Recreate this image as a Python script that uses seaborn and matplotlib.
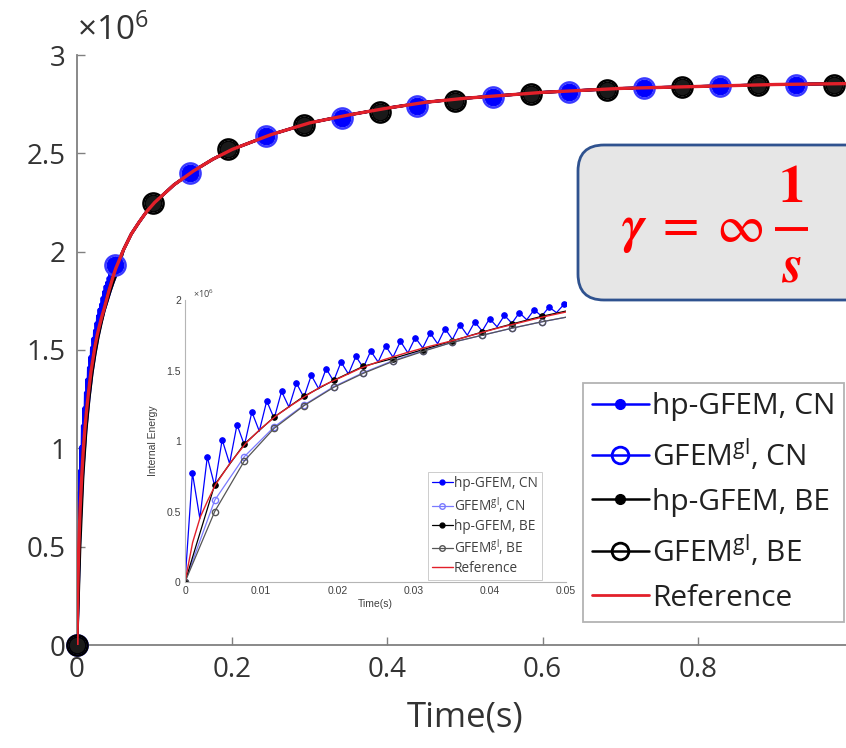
import numpy as np
import matplotlib
matplotlib.use("Agg")
import matplotlib.pyplot as plt
import seaborn as sns
from matplotlib.lines import Line2D
from matplotlib.patches import FancyBboxPatch
from matplotlib.transforms import IdentityTransform
from matplotlib.ticker import FuncFormatter

# ------------------------------------------------------------------ data
# values of the internal energy are in units of 1e6
# reference solution
t_ref = [0, 0.001, 0.002, 0.003, 0.004, 0.006, 0.008, 0.010, 0.012, 0.014, 0.016,
         0.018, 0.020, 0.023, 0.026, 0.029, 0.032, 0.035, 0.038, 0.041, 0.044,
         0.047, 0.050, 0.060, 0.070, 0.080, 0.090, 0.10, 0.125, 0.15, 0.175,
         0.20, 0.25, 0.30, 0.35, 0.40, 0.45, 0.50, 0.60, 0.70, 0.80, 0.90, 1.00]
e_ref = [0, 0.28, 0.46, 0.58, 0.69, 0.85, 0.985, 1.09, 1.18, 1.255, 1.325,
         1.39, 1.44, 1.515, 1.575, 1.625, 1.67, 1.71, 1.755, 1.80, 1.84,
         1.88, 1.915, 2.01, 2.09, 2.15, 2.205, 2.25, 2.34, 2.41, 2.47,
         2.52, 2.595, 2.655, 2.695, 2.73, 2.76, 2.78, 2.81, 2.83, 2.84, 2.85, 2.855]

# inset (first 0.05 s): hp-GFEM, CN oscillates between valleys and peaks
t_cn_fine = np.round(np.arange(52) * 0.000975, 6)
hp_cn_valley = [0, 0.45, 0.68, 0.84, 0.97, 1.07, 1.16, 1.24, 1.31, 1.37, 1.425,
                1.475, 1.52, 1.56, 1.595, 1.625, 1.66, 1.69, 1.72, 1.75, 1.78,
                1.81, 1.835, 1.86, 1.885, 1.91]
hp_cn_peak = [0.773, 0.887, 1.009, 1.116, 1.206, 1.284, 1.352, 1.411, 1.466,
              1.513, 1.560, 1.600, 1.638, 1.674, 1.707, 1.733, 1.766, 1.797,
              1.825, 1.844, 1.868, 1.891, 1.910, 1.931, 1.950, 1.969]
hp_cn_fine = np.column_stack([hp_cn_valley, hp_cn_peak]).ravel()

t_coarse = np.round(np.arange(14) * 0.0039, 6)
gl_cn_coarse = [0, 0.58, 0.89, 1.10, 1.255, 1.385, 1.485, 1.57, 1.64, 1.70,
                1.75, 1.80, 1.845, 1.885]
hp_be_coarse = [0, 0.69, 0.98, 1.17, 1.317, 1.43, 1.53, 1.585, 1.648, 1.71,
                1.773, 1.83, 1.884, 1.93]
gl_be_coarse = [0, 0.50, 0.86, 1.09, 1.25, 1.38, 1.48, 1.565, 1.635, 1.70,
                1.75, 1.80, 1.845, 1.885]

# main plot marker points (0 .. 1 s)
t_cn_main = [0, 0.04875, 0.14625, 0.24375, 0.34125, 0.43875, 0.53625,
             0.63375, 0.73125, 0.82875, 0.92625]
e_cn_main = [0, 1.93, 2.40, 2.59, 2.68, 2.74, 2.785, 2.81, 2.83, 2.84, 2.848]
t_be_main = [0, 0.0975, 0.195, 0.2925, 0.39, 0.4875, 0.585, 0.6825, 0.78,
             0.8775, 0.975]
e_be_main = [0, 2.25, 2.52, 2.645, 2.71, 2.765, 2.80, 2.82, 2.835, 2.845, 2.85]

labels = ["hp-GFEM, CN", r"GFEM$^{\mathrm{gl}}$, CN", "hp-GFEM, BE",
          r"GFEM$^{\mathrm{gl}}$, BE", "Reference"]

# ------------------------------------------------------------------ style
sns.set_theme(style="white")
plt.rcParams["font.family"] = ["Open Sans", "DejaVu Sans"]
plt.rcParams["mathtext.fontset"] = "custom"
plt.rcParams["mathtext.rm"] = "Open Sans"
plt.rcParams["mathtext.it"] = "Open Sans:italic"
plt.rcParams["mathtext.bf"] = "Open Sans:bold"

BLUE = "#0000ff"
LBLUE = "#7a7aff"
BLACK = "#000000"
GRAY = "#555555"
RED = "#e2202a"
SPINE = "#808080"
TXT = "#333333"

W, H = 846, 748
fig = plt.figure(figsize=(W / 100, H / 100), dpi=100)
fig.patch.set_facecolor("white")

ax = fig.add_axes([77 / W, 103 / H, 776 / W, 590 / H])
ax.set_facecolor("white")


def cat(t_a, e_a, t_b, e_b):
    t_a = np.asarray(t_a, float); e_a = np.asarray(e_a, float)
    t_b = np.asarray(t_b, float); e_b = np.asarray(e_b, float)
    m = t_b > t_a.max() + 1e-9
    return np.concatenate([t_a, t_b[m]]), np.concatenate([e_a, e_b[m]])


# lines in main plot (after 0.05 s all solutions lie on the reference curve)
for (ta, ea, c) in [
    (t_cn_fine, hp_cn_fine, BLUE),
    (t_coarse, gl_cn_coarse, BLUE),
    (t_coarse, hp_be_coarse, BLACK),
    (t_coarse, gl_be_coarse, BLACK),
]:
    tt, ee = cat(ta, ea, t_ref, e_ref)
    sns.lineplot(x=tt, y=ee, ax=ax, color=c, lw=2.0, sort=False, legend=False,
                 zorder=2)

# markers in main plot
ax.plot(t_cn_main, e_cn_main, ls="none", marker="o", ms=12, mfc=BLUE, mec=BLUE,
        zorder=3, clip_on=False)
ax.plot(t_cn_main, e_cn_main, ls="none", marker="o", ms=14.5, mfc="none", mec="#3a3aff",
        mew=1.8, zorder=3, clip_on=False)
ax.plot(t_be_main, e_be_main, ls="none", marker="o", ms=12, mfc="#1a1a1a", mec=BLACK,
        zorder=3, clip_on=False)
ax.plot(t_be_main, e_be_main, ls="none", marker="o", ms=14.5, mfc="none", mec=BLACK,
        mew=1.8, zorder=3, clip_on=False)
sns.lineplot(x=t_ref, y=e_ref, ax=ax, color=RED, lw=2.4, sort=False, legend=False, zorder=4)

ax.set_xlim(0, 1)
ax.set_ylim(0, 3)
ax.set_xticks([0, 0.2, 0.4, 0.6, 0.8])
ax.set_yticks([0, 0.5, 1, 1.5, 2, 2.5, 3])
fmt = FuncFormatter(lambda v, p: f"{v:g}")
ax.xaxis.set_major_formatter(fmt)
ax.yaxis.set_major_formatter(fmt)
for s in ["top", "right"]:
    ax.spines[s].set_visible(False)
for s in ["left", "bottom"]:
    ax.spines[s].set_color(SPINE)
    ax.spines[s].set_linewidth(1.3)
ax.tick_params(direction="in", length=6, width=1, colors=SPINE, labelsize=20,
               labelcolor=TXT, pad=8, left=True, bottom=True)
ax.set_xlabel("Time(s)", fontsize=25, color=TXT, labelpad=12)
ax.text(0.0, 1.012, "×10$^{6}$", transform=ax.transAxes, ha="left", va="bottom",
        fontsize=24, color=TXT)

# main legend
h_main = [
    Line2D([], [], color=BLUE, lw=1.8, marker="o", ms=7, mfc=BLUE, mec=BLUE),
    Line2D([], [], color=BLUE, lw=1.8, marker="o", ms=12, mfc="none", mec=BLUE, mew=2),
    Line2D([], [], color=BLACK, lw=1.8, marker="o", ms=7, mfc=BLACK, mec=BLACK),
    Line2D([], [], color=BLACK, lw=1.8, marker="o", ms=12, mfc="none", mec=BLACK, mew=2),
    Line2D([], [], color=RED, lw=2.0),
]
leg = ax.legend(h_main, labels, loc="upper left",
                bbox_to_anchor=(583 / W, 1 - 383 / H), bbox_transform=fig.transFigure,
                fontsize=21.5, frameon=True, fancybox=False, edgecolor="#a0a0a0",
                handlelength=1.9, handletextpad=0.1, labelspacing=0.52,
                borderpad=0.3, borderaxespad=0)
leg.get_frame().set_linewidth(1.3)
for txt in leg.get_texts():
    txt.set_color("#222222")

# ------------------------------------------------------------------ inset
axi = fig.add_axes([185 / W, 166 / H, 381 / W, 282 / H])
axi.set_facecolor("white")
sns.lineplot(x=t_cn_fine, y=hp_cn_fine, ax=axi, color=BLUE, lw=0.9, sort=False,
             legend=False, marker="o", ms=4, mfc=BLUE, mec=BLUE,
             markevery=slice(1, None, 2))
sns.lineplot(x=t_coarse, y=gl_cn_coarse, ax=axi, color=LBLUE, lw=0.9, sort=False,
             legend=False, marker="o", ms=4.5, mfc="none", mec=LBLUE, mew=1)
sns.lineplot(x=t_coarse, y=hp_be_coarse, ax=axi, color=BLACK, lw=0.9, sort=False,
             legend=False, marker="o", ms=4, mfc=BLACK, mec=BLACK)
sns.lineplot(x=t_coarse, y=gl_be_coarse, ax=axi, color=GRAY, lw=0.9, sort=False,
             legend=False, marker="o", ms=4.5, mfc="none", mec=GRAY, mew=1)
sns.lineplot(x=t_ref, y=e_ref, ax=axi, color=RED, lw=1.0, sort=False, legend=False)

axi.set_xlim(0, 0.05)
axi.set_ylim(0, 2)
axi.set_xticks([0, 0.01, 0.02, 0.03, 0.04, 0.05])
axi.set_yticks([0, 0.5, 1, 1.5, 2])
axi.xaxis.set_major_formatter(fmt)
axi.yaxis.set_major_formatter(fmt)
for s in ["top", "right"]:
    axi.spines[s].set_visible(False)
for s in ["left", "bottom"]:
    axi.spines[s].set_color("#b5b5b5")
    axi.spines[s].set_linewidth(0.8)
axi.tick_params(direction="in", length=3, width=0.6, colors="#b5b5b5", labelsize=7.5,
                labelcolor="#404040", pad=3)
for lab in axi.get_xticklabels() + axi.get_yticklabels():
    lab.set_family(["Liberation Sans", "DejaVu Sans"])
axi.set_xlabel("Time(s)", fontsize=7.5, color="#404040", labelpad=2,
               family=["Liberation Sans", "DejaVu Sans"])
axi.set_ylabel("Internal Energy", fontsize=7.5, color="#404040", labelpad=6,
               family=["Liberation Sans", "DejaVu Sans"])
axi.text(0.02, 1.0, "×10$^{6}$", transform=axi.transAxes, ha="left", va="bottom",
         fontsize=6.5, color="#404040")

h_in = [
    Line2D([], [], color=BLUE, lw=0.9, marker="o", ms=3.5, mfc=BLUE, mec=BLUE),
    Line2D([], [], color=LBLUE, lw=0.9, marker="o", ms=4, mfc="none", mec=LBLUE),
    Line2D([], [], color=BLACK, lw=0.9, marker="o", ms=3.5, mfc=BLACK, mec=BLACK),
    Line2D([], [], color=GRAY, lw=0.9, marker="o", ms=4, mfc="none", mec=GRAY),
    Line2D([], [], color=RED, lw=1.0),
]
legi = axi.legend(h_in, labels, loc="upper left",
                  bbox_to_anchor=(428 / W, 1 - 472 / H), bbox_transform=fig.transFigure,
                  fontsize=9.8, frameon=True, fancybox=False, edgecolor="#c0c0c0",
                  handlelength=1.5, handletextpad=0.1, labelspacing=0.28,
                  borderpad=0.3, borderaxespad=0)
legi.get_frame().set_linewidth(0.7)
for txt in legi.get_texts():
    txt.set_color("#404040")

# ------------------------------------------------------------------ gamma box
box = FancyBboxPatch((578, H - 300), 360, 155,
                     boxstyle="round,pad=0,rounding_size=26",
                     transform=IdentityTransform(), fc="#e6e6e6", ec="#2f528f",
                     lw=2.0, zorder=10)
fig.add_artist(box)

RED_T = "#ff0000"
fig.text(692 / W, 1 - 242 / H, r"$\mathbfit{\gamma}\;=\;\infty$", ha="center",
         va="baseline", color=RED_T, fontsize=38, math_fontfamily="stix", zorder=11)
fig.text(791 / W, 1 - 188 / H, r"$\mathbf{1}$", ha="center", va="center",
         color=RED_T, fontsize=38, math_fontfamily="stix", zorder=11)
fig.text(791 / W, 1 - 268 / H, r"$\mathbfit{s}$", ha="center", va="center",
         color=RED_T, fontsize=38, math_fontfamily="stix", zorder=11)
fig.add_artist(Line2D([775 / W, 808 / W], [1 - 229 / H, 1 - 229 / H],
                      transform=fig.transFigure, color=RED_T, lw=2.8,
                      solid_capstyle="butt", zorder=11))

fig.savefig("out.png", dpi=100, facecolor="white")
